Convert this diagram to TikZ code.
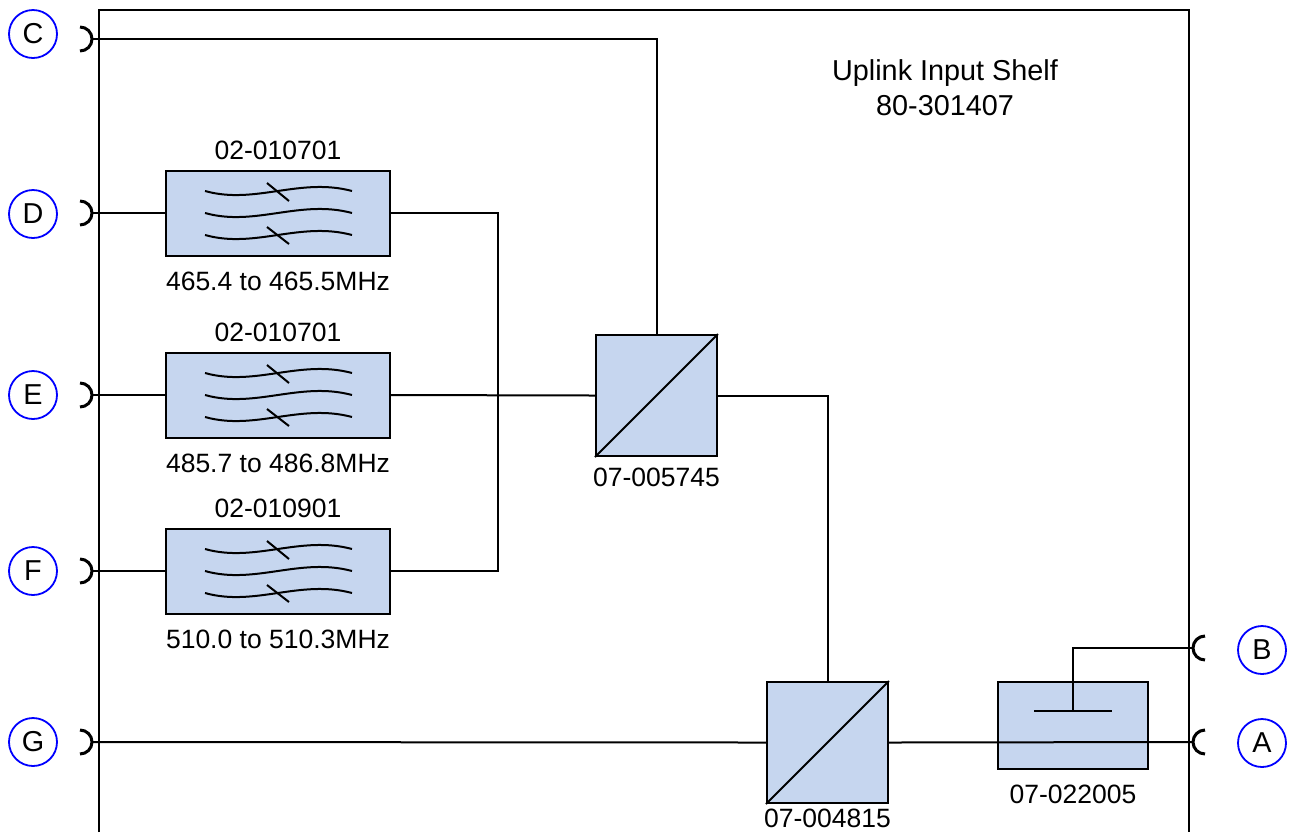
\documentclass[tikz,border=0pt]{standalone}
\usepackage{fontspec}
\setmainfont{Liberation Sans}
\usetikzlibrary{positioning}
\definecolor{boxfill}{RGB}{198,214,239}
\begin{document}
\begin{tikzpicture}[x=0.5pt,y=-0.5pt,line width=1pt,
 font=\fontsize{13.25}{17.5}\selectfont,
 filterbox/.style={draw,fill=boxfill,minimum width=112pt,minimum height=42.5pt,inner sep=0},
 diplexbox/.style={draw,fill=boxfill,minimum size=60.5pt,inner sep=0},
 couplerbox/.style={draw,fill=boxfill,minimum width=75pt,minimum height=43.5pt,inner sep=0},
 port/.style={draw=blue,circle,minimum size=24pt,inner sep=0,line width=0.9pt,
  font=\fontsize{14.4}{17.5}\selectfont},
 jack/.style={line width=1.5pt},
 lbl/.style={inner sep=0}]
 \useasboundingbox (0,0) rectangle (1294,832);
 % shelf outline
 \draw (99,832) -- (99,10) -- (1189,10) -- (1189,832);
 \node[lbl,align=center,anchor=north,font=\fontsize{14.4}{17.5}\selectfont] (title) at (945,59)
  {Uplink Input Shelf\\80-301407};
 % ports
 \node[port] (pC) at (33,34) {C};
 \node[port] (pD) at (33,214) {D};
 \node[port] (pE) at (33,395) {E};
 \node[port] (pF) at (33,571) {F};
 \node[port] (pG) at (33,742) {G};
 \node[port] (pB) at (1262,650) {B};
 \node[port] (pA) at (1262,743) {A};
 \coordinate (jC) at (92,39);
 \coordinate (jD) at (92,213);
 \coordinate (jE) at (92,395);
 \coordinate (jF) at (92,571);
 \coordinate (jG) at (92,742);
 \coordinate (jB) at (1193,648);
 \coordinate (jA) at (1193,742);
 \foreach \j in {jC,jD,jE,jF,jG}
  \draw[jack] ([shift={(-12,-12)}]\j) arc[start angle=-90,end angle=90,radius=12];
 \foreach \j in {jB,jA}
  \draw[jack] ([shift={(12,-12)}]\j) arc[start angle=-90,end angle=-270,radius=12];
 % filters
 \node[filterbox] (fD) at (278,213) {};
 \node[filterbox] (fE) at (278,395) {};
 \node[filterbox] (fF) at (278,571) {};
 \foreach \f in {fD,fE,fF}{
  \begin{scope}[shift={(\f.center)}]
   \foreach \dy in {-22,0,22}
    \draw (-73,\dy) .. controls (-23,\dy+14) and (22,\dy-14) .. (74,\dy);
   \draw (-11,-30) -- (11,-12);
   \draw (-11,14) -- (11,31);
  \end{scope}
 }
 \node[lbl,above=4.5pt of fD] (nD) {02-010701};
 \node[lbl,below=7pt of fD] (rD) {465.4 to 465.5MHz};
 \node[lbl,above=4.5pt of fE] (nE) {02-010701};
 \node[lbl,below=7pt of fE] (rE) {485.7 to 486.8MHz};
 \node[lbl,above=4.5pt of fF] (nF) {02-010901};
 \node[lbl,below=7pt of fF] (rF) {510.0 to 510.3MHz};
 % diplexers and coupler
 \node[diplexbox] (d1) at (656.5,395.5) {};
 \draw (d1.south west) -- (d1.north east);
 \node[lbl,below=5pt of d1] (n1) {07-005745};
 \node[diplexbox] (d2) at (827.5,742.5) {};
 \draw (d2.south west) -- (d2.north east);
 \node[lbl,below=2pt of d2] (n2) {07-004815};
 \node[couplerbox] (cpl) at (1073,725.5) {};
 \node[lbl,below=7pt of cpl] (n3) {07-022005};
 \coordinate (cpi) at (1073,711);
 \draw ([xshift=-19.5pt]cpi) -- ([xshift=19.5pt]cpi);
 % connections
 \draw (jC) -| (d1.north);
 \draw (jD) -- (fD.west);
 \draw (jE) -- (fE.west);
 \draw (jF) -- (fF.west);
 \coordinate (cmb) at (498,395);
 \draw (fD.east) -| (cmb) |- (fF.east);
 \draw (fE.east) -- (d1.west);
 \draw (d1.east) -| (d2.north);
 \draw (jG) -- (d2.west);
 \draw (d2.east) -- (jA);
 \draw (cpi) |- (jB);
\end{tikzpicture}
\end{document}
